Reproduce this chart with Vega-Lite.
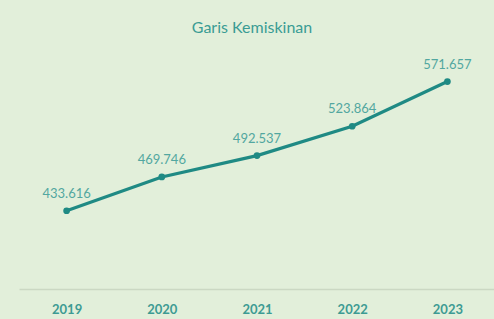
{
  "$schema": "https://vega.github.io/schema/vega-lite/v6.json",
  "width": 476,
  "height": 234,
  "autosize": {"type": "none"},
  "padding": {"left": 19, "top": 55, "right": 0, "bottom": 30},
  "background": "#E2EFDA",
  "title": {
    "text": "Garis Kemiskinan",
    "font": "Lato",
    "fontSize": 16,
    "fontWeight": "normal",
    "color": "#3a9c94",
    "anchor": "middle",
    "dx": -5,
    "offset": 19
  },
  "config": {"view": {"stroke": null}},
  "data": {
    "values": [
      {"year": "2019", "value": 433.616, "label": "433.616"},
      {"year": "2020", "value": 469.746, "label": "469.746"},
      {"year": "2021", "value": 492.537, "label": "492.537"},
      {"year": "2022", "value": 523.864, "label": "523.864"},
      {"year": "2023", "value": 571.657, "label": "571.657"}
    ]
  },
  "encoding": {
    "x": {
      "field": "year",
      "type": "ordinal",
      "scale": {"type": "point", "padding": 0.5},
      "axis": {
        "title": null,
        "labelAngle": 0,
        "ticks": false,
        "domainColor": "#cbd8c3",
        "domainWidth": 1.5,
        "labelFont": "Lato",
        "labelFontSize": 13,
        "labelFontWeight": "bold",
        "labelColor": "#3d9b93",
        "labelPadding": 14
      }
    },
    "y": {
      "field": "value",
      "type": "quantitative",
      "scale": {"domain": [350, 600]},
      "axis": null
    }
  },
  "layer": [
    {"mark": {"type": "line", "color": "#1f8a84", "strokeWidth": 3.2}},
    {"mark": {"type": "point", "filled": true, "opacity": 1, "color": "#1f8a84", "size": 45}},
    {
      "mark": {"type": "text", "font": "Lato", "fontSize": 13, "color": "#52a7a0", "baseline": "bottom", "dy": -10},
      "encoding": {"text": {"field": "label"}}
    }
  ]
}
